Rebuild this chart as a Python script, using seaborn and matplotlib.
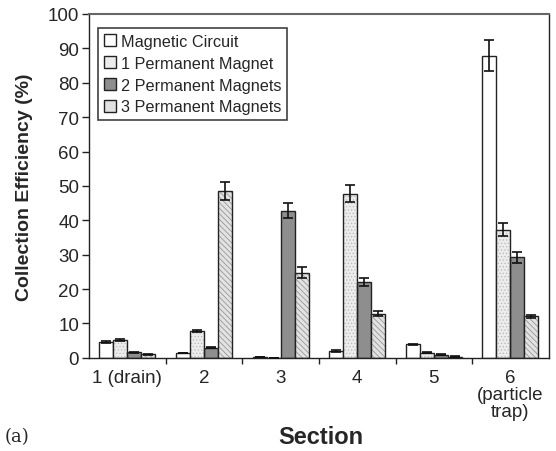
import numpy as np
import pandas as pd
import matplotlib
matplotlib.use("Agg")
import matplotlib.pyplot as plt
from matplotlib.patches import Rectangle
import seaborn as sns

sections = ["1 (drain)", "2", "3", "4", "5", "6\n(particle\ntrap)"]
series = ["Magnetic Circuit", "1 Permanent Magnet", "2 Permanent Magnets", "3 Permanent Magnets"]
mc = [4.6, 1.4, 0.2, 2.0, 3.9, 87.9]
pm1 = [5.3, 7.8, 0.0, 47.7, 1.5, 37.3]
pm2 = [1.6, 3.0, 42.8, 22.0, 0.9, 29.3]
pm3 = [1.0, 48.5, 24.8, 12.9, 0.4, 12.1]
mc_err = [0.2, 0.1, 0.0, 0.2, 0.2, 4.4]
pm1_err = [0.3, 0.4, 0.0, 2.5, 0.1, 1.9]
pm2_err = [0.2, 0.2, 2.2, 1.2, 0.1, 1.6]
pm3_err = [0.1, 2.5, 1.5, 0.6, 0.1, 0.5]

values = [mc, pm1, pm2, pm3]
errors = [mc_err, pm1_err, pm2_err, pm3_err]
rows = []
for s, vals, errs in zip(series, values, errors):
    for sec, v, e in zip(sections, vals, errs):
        rows.append({"Section": sec, "Series": s, "Value": v, "Err": e})
df = pd.DataFrame(rows)

sns.set_style("white")
plt.rcParams['font.family'] = ['Liberation Sans', 'DejaVu Sans']
plt.rcParams['hatch.linewidth'] = 0.5

fig = plt.figure(figsize=(5.56, 4.52), dpi=100)
ax = fig.add_axes([0.160, 0.206, 0.827, 0.761])

colors = ["#ffffff", "#ececec", "#8e8e8e", "#e2e2e2"]
sns.barplot(data=df, x="Section", y="Value", hue="Series", order=sections,
            hue_order=series, palette=colors, errorbar=None, width=0.73,
            edgecolor="#222222", linewidth=1.0, ax=ax)

hatches = [None, ".....", None, "\\\\\\\\\\\\"]
hatch_cols = [None, "#b8b8b8", None, "#8a8a8a"]
for cont, h, hc, errs in zip(ax.containers, hatches, hatch_cols, errors):
    xs, ys = [], []
    for bar in cont:
        if h:
            bar.set_hatch(h)
            bar.set_edgecolor(hc)
            bar.set_linewidth(0)
            ax.add_patch(Rectangle(bar.get_xy(), bar.get_width(), bar.get_height(),
                                   facecolor="none", edgecolor="#222222",
                                   linewidth=1.0, zorder=bar.get_zorder() + 0.1))
        xs.append(bar.get_x() + bar.get_width() / 2)
        ys.append(bar.get_height())
    ax.errorbar(xs, ys, yerr=errs, fmt="none", ecolor="#111111",
                elinewidth=1.2, capsize=3.5, capthick=1.2, zorder=5)

ax.set_ylim(0, 100)
ax.set_xlim(-0.5, 5.5)
ax.set_yticks(np.arange(0, 101, 10))
ax.tick_params(axis="y", direction="out", length=5, width=1, labelsize=13.5,
               left=True, color="#222222", pad=2)
ax.set_xticks(range(len(sections)))
ax.set_xticklabels(sections, fontsize=13.5, linespacing=1.0)
ax.set_xticks(np.arange(0.5, 5.5, 1.0), minor=True)
ax.tick_params(axis="x", which="major", length=0, pad=8)
ax.tick_params(axis="x", which="minor", direction="out", length=4, width=1,
               bottom=True, color="#222222")

for sp in ax.spines.values():
    sp.set_color("#222222")
    sp.set_linewidth(1.0)
ax.spines["top"].set_color("#666666")
ax.spines["top"].set_linewidth(1.5)

ax.set_ylabel("Collection Efficiency (%)", fontsize=14, fontweight="bold", labelpad=11)
ax.set_xlabel("")
fig.text(0.577, 0.031, "Section", fontsize=17, fontweight="bold", ha="center", va="center")
fig.text(0.009, 0.033, "(a)", fontsize=13, family="DejaVu Serif", ha="left", va="center")

leg = ax.legend(loc="upper left", bbox_to_anchor=(0.013, 0.968), frameon=True,
                fontsize=11.7, handlelength=0.75, handleheight=0.75, handletextpad=0.3,
                borderpad=0.35, labelspacing=0.42, fancybox=False, borderaxespad=0.2)
leg.get_frame().set_edgecolor("#111111")
leg.get_frame().set_linewidth(1.2)
for hnd in leg.legend_handles:
    hnd.set_edgecolor("#222222")
    hnd.set_linewidth(1.0)

fig.savefig("out.png", dpi=100)
